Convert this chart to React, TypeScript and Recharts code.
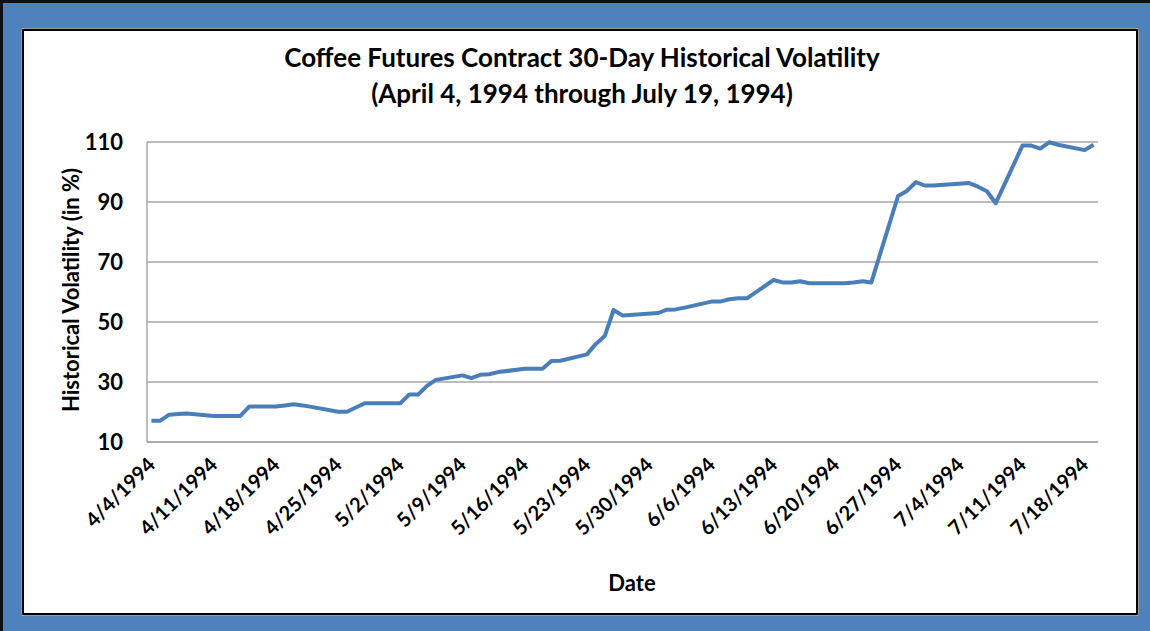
import React from "react";
import { LineChart, Line, XAxis, YAxis, CartesianGrid } from "recharts";

// trading days, 4/4/1994 - 7/19/1994
const tradeDates = [
  "4/4/1994", "4/5/1994", "4/6/1994", "4/7/1994", "4/8/1994",
  "4/11/1994", "4/12/1994", "4/13/1994", "4/14/1994", "4/15/1994",
  "4/18/1994", "4/19/1994", "4/20/1994", "4/21/1994", "4/22/1994",
  "4/25/1994", "4/26/1994", "4/27/1994", "4/28/1994", "4/29/1994",
  "5/2/1994", "5/3/1994", "5/4/1994", "5/5/1994", "5/6/1994",
  "5/9/1994", "5/10/1994", "5/11/1994", "5/12/1994", "5/13/1994",
  "5/16/1994", "5/17/1994", "5/18/1994", "5/19/1994", "5/20/1994",
  "5/23/1994", "5/24/1994", "5/25/1994", "5/26/1994", "5/27/1994",
  "5/31/1994", "6/1/1994", "6/2/1994", "6/3/1994",
  "6/6/1994", "6/7/1994", "6/8/1994", "6/9/1994", "6/10/1994",
  "6/13/1994", "6/14/1994", "6/15/1994", "6/16/1994", "6/17/1994",
  "6/20/1994", "6/21/1994", "6/22/1994", "6/23/1994", "6/24/1994",
  "6/27/1994", "6/28/1994", "6/29/1994", "6/30/1994", "7/1/1994",
  "7/5/1994", "7/6/1994", "7/7/1994", "7/8/1994",
  "7/11/1994", "7/12/1994", "7/13/1994", "7/14/1994", "7/15/1994",
  "7/18/1994", "7/19/1994",
];

const volatility = [
  17.1, 17.1, 19.1, 19.3, 19.5,
  18.7, 18.7, 18.7, 18.7, 21.8,
  21.8, 22.2, 22.6, 22.2, 21.7,
  20.1, 20.1, 21.5, 22.9, 22.9,
  22.9, 25.8, 25.8, 28.7, 30.7,
  32.2, 31.3, 32.4, 32.6, 33.3,
  34.4, 34.4, 34.4, 37.0, 37.1,
  39.2, 42.7, 45.3, 54.0, 52.2,
  53.0, 54.1, 54.2, 54.8,
  56.8, 56.8, 57.6, 57.9, 57.9,
  64.0, 63.2, 63.2, 63.6, 62.9,
  62.9, 62.9, 63.2, 63.6, 63.2,
  92.0, 93.7, 96.6, 95.5, 95.5,
  96.3, 95.1, 93.6, 89.6,
  108.8, 108.8, 107.8, 109.9, 109.1,
  107.3, 109.1,
];

const tickLabels = [
  "4/4/1994", "4/11/1994", "4/18/1994", "4/25/1994", "5/2/1994",
  "5/9/1994", "5/16/1994", "5/23/1994", "5/30/1994", "6/6/1994",
  "6/13/1994", "6/20/1994", "6/27/1994", "7/4/1994", "7/11/1994",
  "7/18/1994",
];

const yTicks = [10, 30, 50, 70, 90, 110];

const FONT = "Lato, 'Open Sans', sans-serif";

// days since 4/4/1994, so the x axis behaves like Excel's date axis
const dayOf = (s: string) => {
  const [m, d, y] = s.split("/").map(Number);
  return (Date.UTC(y, m - 1, d) - Date.UTC(1994, 3, 4)) / 86400000;
};

const data = tradeDates.map((d, i) => ({ day: dayOf(d), value: volatility[i] }));
const xTicks = tickLabels.map(dayOf);
const lastDay = dayOf(tradeDates[tradeDates.length - 1]);

function DateTick(props: any) {
  const { x, y, payload } = props;
  const label = tickLabels[xTicks.indexOf(payload.value)];
  return (
    <text
      x={0}
      y={0}
      transform={`translate(${x + 5},${y}) rotate(-45)`}
      textAnchor="end"
      fontSize={20}
      fontWeight={700}
      fontFamily={FONT}
      fill="#000"
    >
      {label}
    </text>
  );
}

export default function App() {
  return (
    <div style={{ position: "absolute", left: 0, top: 0, width: 1150, height: 631, fontFamily: FONT }}>
      {/* blue frame */}
      <div
        style={{
          position: "absolute",
          inset: 0,
          background: "#4F81BD",
          borderTop: "3px solid #111",
          borderLeft: "3px solid #111",
          boxSizing: "border-box",
        }}
      />
      <div
        style={{
          position: "absolute",
          left: 22,
          top: 29,
          width: 1116,
          height: 586,
          background: "#fff",
          border: "2px solid #000",
          boxShadow: "0 0 0 1px #999",
          boxSizing: "border-box",
        }}
      />

      <div style={{ position: "absolute", left: 0, top: 0 }}>
        <LineChart width={1150} height={631} data={data} margin={{ top: 142, right: 52, bottom: 129, left: 0 }}>
          <CartesianGrid vertical={false} stroke="#a6a6a6" strokeWidth={1.5} />
          <XAxis
            dataKey="day"
            type="number"
            domain={[-0.5, lastDay + 0.5]}
            ticks={xTicks}
            interval={0}
            height={60}
            tickLine={false}
            tickMargin={18}
            axisLine={{ stroke: "#a6a6a6", strokeWidth: 1.5 }}
            tick={<DateTick />}
          />
          <YAxis
            type="number"
            domain={[10, 110]}
            ticks={yTicks}
            width={147}
            tickLine={false}
            tickMargin={18}
            axisLine={{ stroke: "#a6a6a6", strokeWidth: 1.5 }}
            tick={{ fontSize: 22, fontWeight: 700, fill: "#000", fontFamily: FONT }}
          />
          <Line
            type="linear"
            dataKey="value"
            stroke="#4A7EBB"
            strokeWidth={4}
            strokeLinejoin="round"
            dot={false}
            isAnimationActive={false}
          />
        </LineChart>
      </div>

      <div
        style={{
          position: "absolute",
          left: 7,
          top: 39,
          width: 1150,
          textAlign: "center",
          fontSize: 26,
          fontWeight: 700,
          lineHeight: "36px",
          color: "#000",
        }}
      >
        <div>Coffee Futures Contract 30-Day Historical Volatility</div>
        <div>(April 4, 1994 through July 19, 1994)</div>
      </div>

      <div
        style={{
          position: "absolute",
          left: 70,
          top: 290,
          transform: "translate(-50%, -50%) rotate(-90deg)",
          whiteSpace: "nowrap",
          fontSize: 22,
          fontWeight: 700,
          color: "#000",
        }}
      >
        Historical Volatility (in %)
      </div>

      <div
        style={{
          position: "absolute",
          left: 632,
          top: 582,
          transform: "translate(-50%, -50%)",
          fontSize: 22,
          fontWeight: 700,
          color: "#000",
        }}
      >
        Date
      </div>
    </div>
  );
}
